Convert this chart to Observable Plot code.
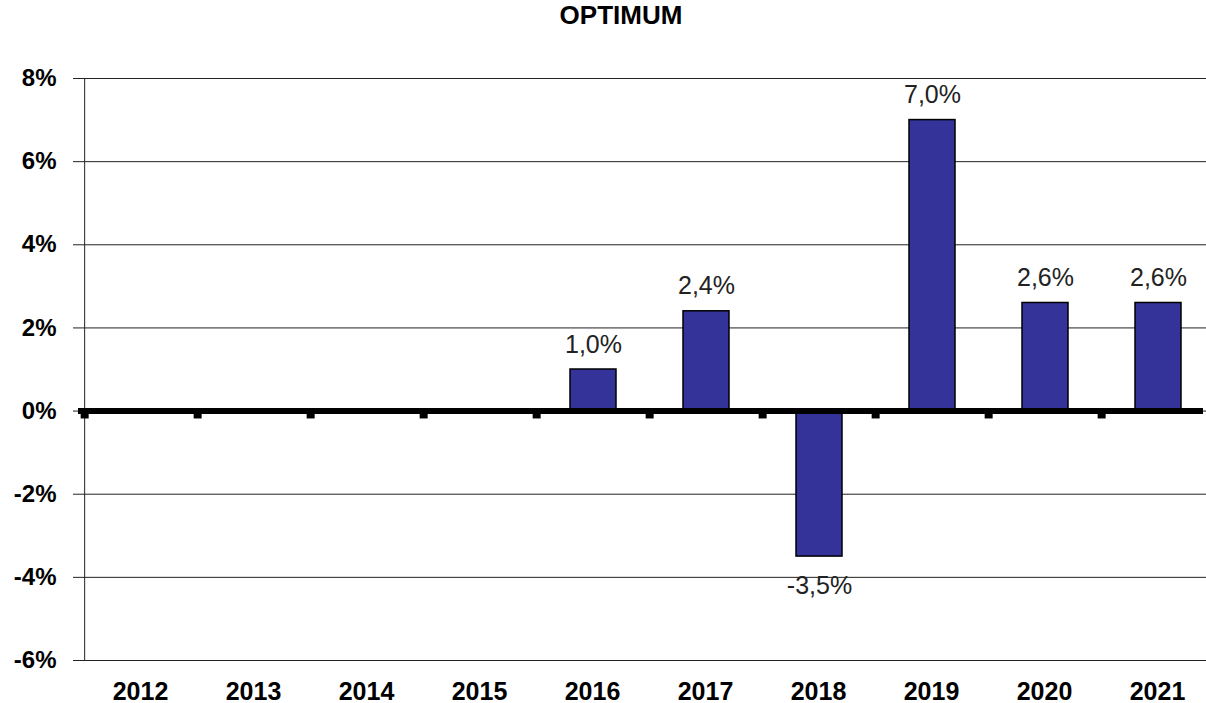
<!DOCTYPE html>
<html>
<head>
<meta charset="utf-8">
<script src="https://cdn.jsdelivr.net/npm/d3@7"></script>
<script src="https://cdn.jsdelivr.net/npm/@observablehq/plot@0.6"></script>
<style>
  html, body { margin: 0; padding: 0; background: #fff; overflow: hidden; }
  #title { width: 1206px; height: 48px; line-height: 48px; box-sizing: border-box; padding-left: 36px;
           text-align: center; font: bold 26px "Liberation Sans", Arial, sans-serif; color: #000; }
  #chart svg { overflow: visible; }
</style>
</head>
<body>
<div id="title">OPTIMUM</div>
<div id="chart"></div>
<script>
const years = ["2012", "2013", "2014", "2015", "2016", "2017", "2018", "2019", "2020", "2021"];
const values = [null, null, null, null, 1.0, 2.4, -3.5, 7.0, 2.6, 2.6];
const yTicks = [-6, -4, -2, 0, 2, 4, 6, 8];

const data = years.map((year, i) => ({year, value: values[i]}));
const bars = data.filter(d => d.value != null);
const fmt = v => v.toFixed(1).replace(".", ",") + "%";

const x0 = 81, x1 = 1218;
const step = (x1 - x0) / years.length;

const chart = Plot.plot({
  width: 1206,
  height: 655,
  marginLeft: 81,
  marginRight: 0,
  marginTop: 30,
  marginBottom: 43,
  style: {fontFamily: "'Liberation Sans', Arial, sans-serif", background: "#fff", color: "#000"},
  x: {type: "band", domain: years, range: [x0, x1], paddingInner: 0.595, paddingOuter: 0.2975},
  y: {domain: [-6, 8], range: [612, 30]},
  marks: [
    Plot.ruleY(yTicks, {stroke: "#222", strokeWidth: 1}),
    Plot.ruleX([years[0]], {x: d => d, y1: -6, y2: 8, dx: -step / 2, stroke: "#222", strokeWidth: 1}),
    Plot.axisY(yTicks, {tickFormat: d => d + "%", tickSize: 8, tickPadding: 17, fontSize: 24, fontWeight: "bold", label: null, stroke: "#222"}),
    Plot.axisX({tickSize: 0, tickPadding: 22, fontSize: 25, fontWeight: "bold", label: null, dx: -1}),
    Plot.barY(bars, {x: "year", y: "value", fill: "#333399", stroke: "#000", strokeWidth: 1.5}),
    Plot.ruleY([0], {stroke: "#000", strokeWidth: 6, dx: -3}),
    Plot.ruleX(years, {x: d => d, y1: 0, y2: -0.19, dx: -step / 2, stroke: "#000", strokeWidth: 8}),
    Plot.text(bars.filter(d => d.value >= 0), {x: "year", y: "value", text: d => fmt(d.value), dy: -25, fontSize: 25, fill: "#222"}),
    Plot.text(bars.filter(d => d.value < 0), {x: "year", y: "value", text: d => fmt(d.value), dy: 29, fontSize: 25, fill: "#222"})
  ]
});
document.getElementById("chart").appendChild(chart);
</script>
</body>
</html>
